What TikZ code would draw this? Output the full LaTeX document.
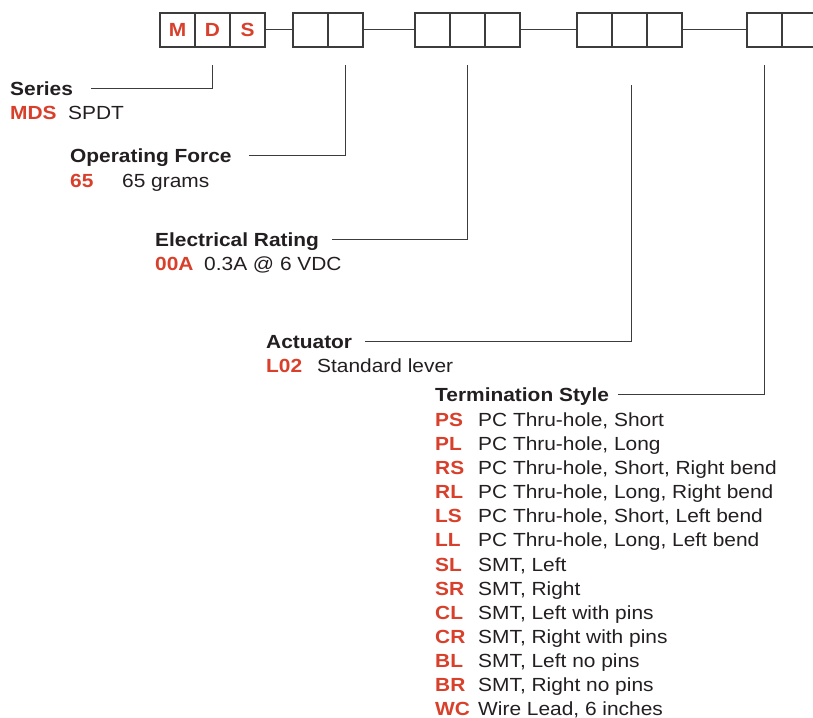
\documentclass[tikz,border=0pt]{standalone}
\usepackage{fontspec}
\setmainfont{Liberation Sans}[FakeStretch=1.1]
\usetikzlibrary{positioning}

\definecolor{codered}{HTML}{D8402B}
\definecolor{inkgray}{HTML}{231F20}
\definecolor{boxgray}{HTML}{3C3C3C}

\tikzset{
  cell/.style={draw=boxgray, line width=1.3pt, minimum width=35pt, minimum height=34pt,
    inner sep=0pt, outer sep=0pt, text=codered, font=\fontsize{19}{21}\selectfont\bfseries},
  head/.style={anchor=base west, inner sep=0pt, text height=13.5pt, text depth=0pt,
    text=inkgray, font=\fontsize{19}{21}\selectfont\bfseries},
  item/.style={anchor=base west, inner sep=0pt, text=inkgray, font=\fontsize{19}{21}\selectfont},
  lead/.style={draw=boxgray, line width=1pt},
}
\newcommand{\code}[2]{\makebox[#1][l]{\textcolor{codered}{\bfseries #2}}}

\begin{document}
\begin{tikzpicture}[x=1pt, y=-1pt]
\useasboundingbox (0,0) rectangle (813,717);

% Part number boxes
\node[cell] (bM) at (177.5,30) {M};
\node[cell, right=0pt of bM] (bD) {D};
\node[cell, right=0pt of bD] (bS) {S};
\node[cell, right=28pt of bS] (bF1) {};
\node[cell, right=0pt of bF1] (bF2) {};
\node[cell, right=52pt of bF2] (bE1) {};
\node[cell, right=0pt of bE1] (bE2) {};
\node[cell, right=0pt of bE2] (bE3) {};
\node[cell, right=57pt of bE3] (bA1) {};
\node[cell, right=0pt of bA1] (bA2) {};
\node[cell, right=0pt of bA2] (bA3) {};
\node[cell, right=65pt of bA3] (bT1) {};
\node[cell, right=0pt of bT1, minimum width=50pt] (bT2) {};

% Dashes between the groups
\draw[lead] (bS.east) -- (bF1.west);
\draw[lead] (bF2.east) -- (bE1.west);
\draw[lead] (bE3.east) -- (bA1.west);
\draw[lead] (bA3.east) -- (bT1.west);

% Labels and their options
\node[head] (ser) at (10,95) {Series};
\node[item] (serCode) at (10,119.5) {\code{58pt}{MDS}SPDT};
\node[head] (opf) at (70,162) {Operating Force};
\node[item] (opfCode) at (70,187) {\code{52pt}{65}65 grams};
\node[head] (elr) at (155,246.5) {Electrical Rating};
\node[item] (elrCode) at (155,270) {\code{49pt}{00A}0.3A @ 6 VDC};
\node[head] (act) at (266,348) {Actuator};
\node[item] (actCode) at (266,372) {\code{51pt}{L02}Standard lever};
\node[head] (trm) at (435,401.5) {Termination Style};
\node[item] (trmPS) at (435,426) {\code{43pt}{PS}PC Thru-hole, Short};
\node[item] (trmPL) at (435,450.2) {\code{43pt}{PL}PC Thru-hole, Long};
\node[item] (trmRS) at (435,474.3) {\code{43pt}{RS}PC Thru-hole, Short, Right bend};
\node[item] (trmRL) at (435,498.5) {\code{43pt}{RL}PC Thru-hole, Long, Right bend};
\node[item] (trmLS) at (435,522.7) {\code{43pt}{LS}PC Thru-hole, Short, Left bend};
\node[item] (trmLL) at (435,546.8) {\code{43pt}{LL}PC Thru-hole, Long, Left bend};
\node[item] (trmSL) at (435,571) {\code{43pt}{SL}SMT, Left};
\node[item] (trmSR) at (435,595.2) {\code{43pt}{SR}SMT, Right};
\node[item] (trmCL) at (435,619.3) {\code{43pt}{CL}SMT, Left with pins};
\node[item] (trmCR) at (435,643.5) {\code{43pt}{CR}SMT, Right with pins};
\node[item] (trmBL) at (435,667.7) {\code{43pt}{BL}SMT, Left no pins};
\node[item] (trmBR) at (435,691.8) {\code{43pt}{BR}SMT, Right no pins};
\node[item] (trmWC) at (435,715) {\code{43pt}{WC}Wire Lead, 6 inches};

% Leader lines up to the boxes
\coordinate (serTop) at ([yshift=-18pt]bD.south);
\coordinate (opfTop) at ([yshift=-18pt]bF2.south);
\coordinate (elrTop) at ([yshift=-18pt]bE2.south);
\coordinate (actTop) at ([xshift=2pt, yshift=-38pt]bA2.south);
\coordinate (trmTop) at ([yshift=-18pt]bT1.south);
\draw[lead] ([xshift=18pt]ser.east) -| (serTop);
\draw[lead] ([xshift=17pt]opf.east) -| (opfTop);
\draw[lead] ([xshift=13pt]elr.east) -| (elrTop);
\draw[lead] ([xshift=13pt]act.east) -| (actTop);
\draw[lead] ([xshift=9pt]trm.east) -| (trmTop);
\end{tikzpicture}
\end{document}
